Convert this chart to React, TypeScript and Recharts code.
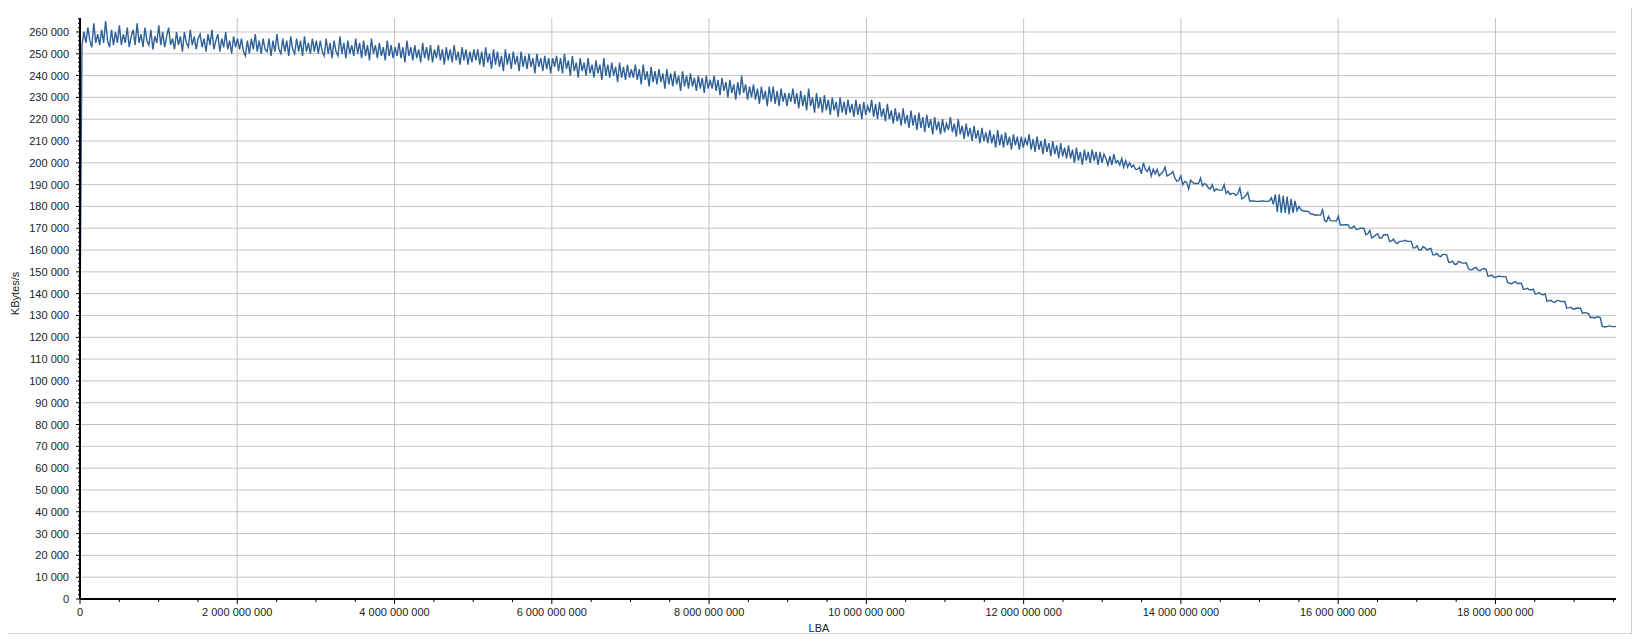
import { LineChart, Line, XAxis, YAxis, CartesianGrid } from 'recharts';

const LBA_MAX = 19532873728;

// read speed in thousands of KBytes/s, samples evenly spaced from LBA 0 to LBA_MAX
// (one row = 500M LBA, 20 samples)
const speed = [
  129,
  254, 260, 255, 262, 256, 253, 264, 255, 259, 254, 261, 255, 265, 256, 253, 261, 254, 260, 255, 263,
  254, 259, 255, 262, 253, 258, 261, 254, 264, 255, 259, 253, 262, 256, 254, 261, 252, 258, 255, 263,
  254, 260, 253, 258, 262, 254, 257, 252, 260, 254, 258, 251, 260, 255, 253, 261, 254, 258, 252, 257,
  259, 253, 257, 251, 259, 254, 261, 252, 256, 259, 251, 257, 253, 260, 252, 256, 250, 258, 253, 257,
  252, 257, 251, 249, 256, 250, 257, 252, 259, 251, 256, 250, 257, 252, 251, 257, 249, 256, 251, 259,
  252, 250, 257, 251, 256, 249, 258, 252, 250, 257, 251, 256, 249, 258, 251, 255, 250, 257, 251, 256,
  250, 256, 251, 249, 257, 250, 255, 248, 256, 251, 249, 258, 250, 255, 248, 256, 250, 254, 249, 257,
  250, 255, 248, 256, 249, 254, 247, 257, 250, 254, 248, 255, 249, 253, 247, 256, 249, 254, 248, 253,
  249, 255, 248, 253, 246, 256, 249, 253, 247, 254, 248, 252, 246, 255, 248, 253, 247, 254, 246, 252,
  248, 254, 247, 252, 245, 253, 247, 252, 246, 254, 247, 251, 245, 253, 247, 252, 245, 251, 246, 252,
  247, 252, 245, 251, 244, 253, 246, 250, 243, 252, 245, 251, 244, 249, 242, 252, 245, 250, 243, 251,
  245, 249, 242, 251, 244, 249, 243, 250, 244, 248, 241, 250, 244, 248, 242, 249, 243, 248, 241, 248,
  244, 249, 242, 248, 241, 250, 243, 247, 240, 249, 242, 246, 239, 248, 242, 246, 240, 248, 241, 245,
  239, 247, 241, 245, 238, 248, 240, 245, 239, 246, 240, 244, 237, 246, 239, 244, 238, 245, 239, 243,
  239, 245, 238, 243, 236, 245, 238, 242, 235, 244, 237, 242, 236, 243, 237, 241, 234, 243, 236, 241,
  235, 242, 236, 240, 233, 242, 235, 240, 234, 241, 235, 239, 233, 240, 234, 239, 232, 240, 234, 238,
  234, 240, 233, 238, 231, 239, 233, 237, 230, 238, 232, 236, 229, 237, 231, 240, 232, 236, 229, 235,
  230, 236, 229, 234, 227, 235, 229, 233, 226, 235, 228, 235, 227, 233, 226, 234, 228, 232, 226, 232,
  228, 234, 227, 232, 225, 233, 226, 231, 224, 234, 226, 230, 223, 232, 225, 230, 223, 231, 224, 229,
  222, 230, 224, 228, 221, 230, 223, 228, 222, 229, 223, 227, 221, 229, 222, 227, 220, 228, 222, 226,
  223, 229, 221, 227, 220, 228, 221, 225, 219, 227, 220, 224, 218, 225, 219, 223, 217, 225, 218, 222,
  216, 224, 217, 222, 215, 223, 216, 221, 214, 222, 216, 220, 213, 221, 215, 219, 213, 220, 214, 218,
  215, 221, 214, 218, 212, 220, 213, 217, 211, 218, 212, 216, 210, 217, 211, 215, 209, 216, 210, 214,
  209, 215, 209, 213, 207, 215, 208, 213, 207, 214, 208, 212, 206, 213, 208, 212, 206, 212, 207, 211,
  208, 213, 206, 211, 205, 212, 206, 210, 204, 211, 205, 209, 203, 210, 204, 208, 202, 209, 203, 207,
  202, 208, 202, 206, 200, 207, 201, 205, 199, 206, 201, 205, 200, 206, 201, 205, 199, 205, 200, 204,
  202, 199, 203, 199, 204, 200, 201, 199, 202, 198, 201, 198, 200, 198, 199, 197, 197, 198, 195, 200,
  197, 196, 198, 194, 197, 195, 197, 194, 195, 196, 198, 194, 194.5, 195, 196, 193, 191.5, 192, 194, 190,
  191.5, 191, 188, 192, 191, 190.5, 190.5, 190.5, 193, 189.5, 190.5, 190, 188.5, 188, 190, 187, 188, 187.5, 187.5, 187.5,
  190, 186, 187, 185.5, 186, 186, 185, 186, 188.5, 183.5, 184, 185, 186.5, 182.5, 182.5, 182.5, 182.3, 182.3, 182.3, 182.5,
  182.5, 182.3, 182.3, 182.5, 184, 181, 185.5, 177.5, 185.5, 177, 185, 177, 184.5, 176.5, 183.5, 177, 182.5, 178, 180, 178.5,
  178, 177.8, 177.8, 177.5, 176.5, 176.5, 176, 176.2, 176, 176, 178.5, 173.5, 173, 175.5, 173.5, 173.4, 173.4, 173.3, 175.5, 171.5,
  171.5, 171.6, 171.6, 171.5, 170, 170.2, 171, 169.5, 169.5, 170, 170, 170, 167, 167.5, 169, 165.5, 166, 167, 167.5, 165.5,
  165.5, 167, 167, 167, 164, 164.2, 165, 163.5, 163, 164, 164, 164.2, 164.5, 164, 164, 164, 161, 161, 162, 160,
  160, 161.5, 161, 160, 160.5, 160.8, 157.8, 157.8, 158.5, 157.3, 157, 158, 158, 157.8, 154.5, 154.3, 155, 153.5, 153.5, 154.8,
  154.5, 154, 154, 154.2, 151.5, 151, 151, 151.8, 152, 150.8, 150.5, 151.3, 151.5, 151.2, 148, 148.2, 148.5, 147.5, 147.5, 148,
  148, 147.8, 147.8, 147.8, 145, 144.8, 144.5, 145.2, 145.5, 144.6, 144.8, 144.8, 142, 142.2, 142.5, 141.8, 141.8, 142, 139.9, 140,
  140.5, 139.7, 139.5, 139.9, 136.5, 136.8, 137, 136.2, 136, 136.9, 136.8, 136.4, 136.4, 136.4, 133.3, 133.5, 133.8, 133, 133, 133.4,
  133.3, 133.3, 131, 131.3, 131.2, 130.9, 129, 129.2, 128.8, 129.3, 129.3, 129, 125, 124.8, 124.8, 125.1, 125.2, 124.9, 124.9, 125,
];

const xMajor = [0, 2e9, 4e9, 6e9, 8e9, 10e9, 12e9, 14e9, 16e9, 18e9];
const yMajor = [
  0, 10, 20, 30, 40, 50, 60, 70, 80, 90, 100, 110, 120, 130, 140, 150, 160, 170, 180, 190,
  200, 210, 220, 230, 240, 250, 260,
];

// minor ticks: every 500M on LBA, every 2 000 on speed
const xTicks = Array.from({ length: 40 }, (_, i) => i * 5e8);
const yTicks = Array.from({ length: 134 }, (_, i) => i * 2);

const data = speed.map((v, i) => ({ lba: (i * LBA_MAX) / (speed.length - 1), v }));

const FONT = '"Liberation Sans", Arial, sans-serif';
const TEXT = '#222';

const fmt = (n: number) => String(Math.round(n)).replace(/\B(?=(\d{3})+(?!\d))/g, ' ');

const YTick = (props: any) => {
  const { x, y, payload } = props;
  const v = payload.value;
  const major = v % 10 === 0;
  const ax = x + 11;
  return (
    <g>
      <line x1={ax - (major ? 4 : 2)} x2={ax} y1={y} y2={y} stroke="#000" />
      {major && (
        <text x={x} y={y} dy={4} textAnchor="end" fontFamily={FONT} fontSize={11} fill={TEXT}>
          {fmt(v * 1000)}
        </text>
      )}
    </g>
  );
};

const XTick = (props: any) => {
  const { x, y, payload } = props;
  const v = payload.value;
  const major = v % 2e9 === 0;
  const ay = y - 8;
  return (
    <g>
      <line x1={x} x2={x} y1={ay} y2={ay + (major ? 5 : 3)} stroke="#000" />
      {major && (
        <text x={x} y={y} dy={9} textAnchor="middle" fontFamily={FONT} fontSize={11} fill={TEXT}>
          {fmt(v)}
        </text>
      )}
    </g>
  );
};

export default function App() {
  return (
    <div
      style={{
        marginLeft: -8,
        marginTop: -8,
        width: 1631,
        height: 633,
        borderRight: '1px solid #d0d0d0',
        borderBottom: '1px solid #d0d0d0',
        background: '#fff',
        fontFamily: FONT,
      }}
    >
      <LineChart width={1631} height={633} data={data} margin={{ top: 18, right: 15, bottom: 0, left: 0 }}>
        <CartesianGrid
          stroke="#c4c4c4"
          horizontalValues={yMajor.filter((v) => v > 0)}
          verticalValues={xMajor.filter((v) => v > 0)}
        />
        <XAxis
          type="number"
          dataKey="lba"
          domain={[0, LBA_MAX]}
          ticks={xTicks}
          interval={0}
          tickLine={false}
          tickSize={5}
          tickMargin={3}
          height={34}
          axisLine={{ stroke: '#000', strokeWidth: 2 }}
          tick={XTick}
          label={{ value: 'LBA', position: 'insideBottom', offset: 1, dx: -29, fontSize: 11, fill: TEXT, fontFamily: FONT }}
        />
        <YAxis
          type="number"
          domain={[0, 266.4]}
          ticks={yTicks}
          interval={0}
          tickLine={false}
          tickSize={4}
          tickMargin={7}
          width={80}
          axisLine={{ stroke: '#000', strokeWidth: 2 }}
          tick={YTick}
          label={{ value: 'KBytes/s', angle: -90, position: 'center', dx: -25, dy: -15, fontSize: 11, fill: TEXT, fontFamily: FONT }}
        />
        <Line
          type="linear"
          dataKey="v"
          stroke="#2e6198"
          strokeWidth={1.4}
          dot={false}
          isAnimationActive={false}
        />
      </LineChart>
    </div>
  );
}
